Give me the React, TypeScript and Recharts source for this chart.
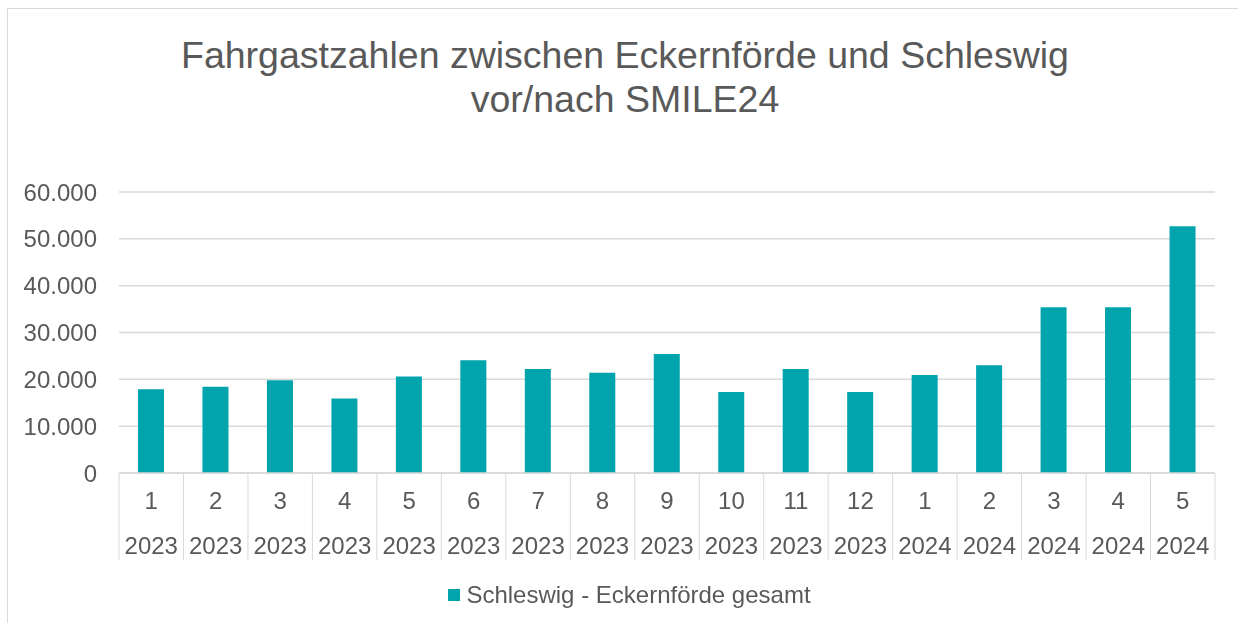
import React from "react";
import { BarChart, Bar, XAxis, YAxis, CartesianGrid, Legend } from "recharts";

const months = ["1", "2", "3", "4", "5", "6", "7", "8", "9", "10", "11", "12", "1", "2", "3", "4", "5"];
const years = [
  "2023", "2023", "2023", "2023", "2023", "2023", "2023", "2023", "2023", "2023", "2023", "2023",
  "2024", "2024", "2024", "2024", "2024",
];
const passengers = [
  17900, 18400, 19800, 15900, 20600, 24100, 22200, 21400, 25400, 17300, 22200, 17300,
  20900, 23000, 35400, 35400, 52700,
];
const yTicks = [0, 10000, 20000, 30000, 40000, 50000, 60000];
const seriesName = "Schleswig - Eckernförde gesamt";

const data = passengers.map((v, i) => ({ key: `${months[i]}/${years[i]}`, value: v }));

const FONT = '"Liberation Sans", Arial, sans-serif';
const TEXT = "#595959";
const GRID = "#d9d9d9";
const TEAL = "#00a4ac";

const CHART_W = 1222;
const CHART_H = 600;
const MARGIN = { top: 184, right: 15, left: 1, bottom: 39 };
const Y_W = 110;
const BAND = (CHART_W - MARGIN.left - MARGIN.right - Y_W) / months.length;

const fmt = (v: number) => String(v).replace(/\B(?=(\d{3})+(?!\d))/g, ".");

function CategoryTick(props: any) {
  const { x, y, payload } = props;
  const i = payload.index;
  const left = x - BAND / 2;
  return (
    <g>
      <line x1={left} y1={y} x2={left} y2={y + 87} stroke={GRID} />
      {i === months.length - 1 && (
        <line x1={x + BAND / 2} y1={y} x2={x + BAND / 2} y2={y + 87} stroke={GRID} />
      )}
      <text x={x} y={y + 27} textAnchor="middle" dominantBaseline="central" fill={TEXT} fontSize={24} fontFamily={FONT}>
        {months[i]}
      </text>
      <text x={x} y={y + 72} textAnchor="middle" dominantBaseline="central" fill={TEXT} fontSize={24} fontFamily={FONT}>
        {years[i]}
      </text>
    </g>
  );
}

function LegendContent() {
  return (
    <div style={{ display: "flex", alignItems: "center", justifyContent: "center", paddingLeft: 21, fontFamily: FONT }}>
      <span style={{ width: 12, height: 12, background: TEAL, marginRight: 6, display: "inline-block" }} />
      <span style={{ fontSize: 24, color: TEXT }}>{seriesName}</span>
    </div>
  );
}

export default function App() {
  return (
    <div
      style={{
        position: "relative",
        width: CHART_W,
        height: CHART_H,
        overflow: "hidden",
        background: "#fff",
        fontFamily: FONT,
      }}
    >
      {/* chart frame (fixed so it does not add to page overflow) */}
      <div style={{ position: "fixed", left: 7, top: 8, width: 1, height: 615, background: GRID }} />
      <div style={{ position: "fixed", left: 7, top: 8, width: 1231, height: 1, background: GRID }} />
      <div
        style={{
          position: "absolute",
          top: 24.5,
          left: 1,
          width: 1232,
          textAlign: "center",
          fontSize: 37.5,
          lineHeight: "44px",
          color: TEXT,
          whiteSpace: "nowrap",
        }}
      >
        Fahrgastzahlen zwischen Eckernförde und Schleswig
        <br />
        vor/nach SMILE24
      </div>
      <BarChart width={CHART_W} height={CHART_H} data={data} margin={MARGIN} barSize={26}>
        <CartesianGrid vertical={false} stroke={GRID} strokeWidth={1.5} />
        <XAxis
          dataKey="key"
          interval={0}
          height={96}
          tickLine={false}
          tickSize={0}
          tickMargin={0}
          axisLine={{ stroke: GRID, strokeWidth: 1.5 }}
          tick={<CategoryTick />}
        />
        <YAxis
          width={Y_W}
          domain={[0, 60000]}
          ticks={yTicks}
          interval={0}
          axisLine={false}
          tickLine={false}
          tickSize={0}
          tickMargin={22}
          tickFormatter={fmt}
          tick={{ fill: TEXT, fontSize: 24, fontFamily: FONT }}
        />
        <Legend
          layout="horizontal"
          verticalAlign="middle"
          align="center"
          content={<LegendContent />}
          wrapperStyle={{ top: 573, left: 0, width: CHART_W }}
        />
        <Bar dataKey="value" name={seriesName} fill={TEAL} isAnimationActive={false} />
      </BarChart>
    </div>
  );
}
